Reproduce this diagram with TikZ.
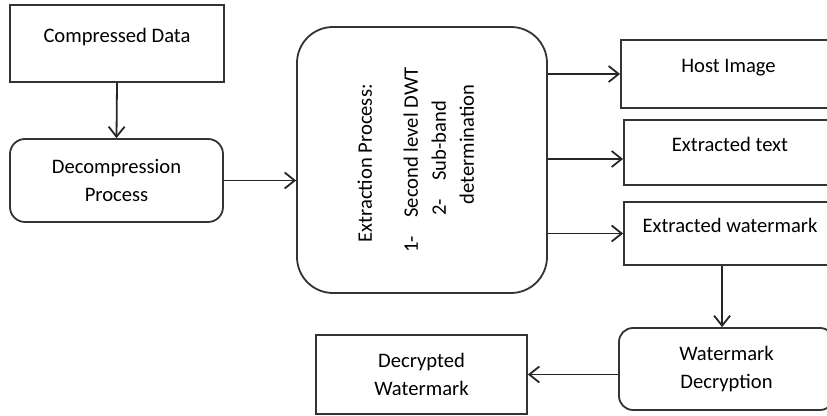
\documentclass[tikz,border=0pt]{standalone}
\usepackage{fontspec}
\setmainfont{Carlito}
\usepackage{graphicx}
\usetikzlibrary{arrows.meta}

\begin{document}
\begin{tikzpicture}[x=0.5pt,y=-0.5pt,
	box/.style={draw=black!80,line width=0.9pt,align=center,inner sep=0pt,
		font=\fontsize{10.3}{14}\selectfont},
	rbox/.style={box,rounded corners=7.5pt},
	toptext/.style={text height=7pt,text depth=8pt},
	arr/.style={-{Straight Barb[length=5pt,width=8pt]},line width=0.9pt,draw=black!85}]
			\useasboundingbox (0,0) rectangle (827,416);
			
			\node[box,toptext,minimum width=107pt,minimum height=38.5pt] (comp) at (117,43.5) {Compressed Data};
			\node[rbox,minimum width=106.5pt,minimum height=41.5pt] (decomp) at (116.5,180.5) {Decompression\\Process};
			\node[box,rounded corners=18pt,minimum width=125pt,minimum height=133pt] (extract) at (422,160)
				{\rotatebox{90}{\begin{tabular}{@{}l@{}}
					\hspace*{5pt}Extraction Process:\\[9pt]
					\makebox[17.5pt][l]{1-}Second level DWT\\
					\hspace*{18.5pt}\makebox[17.5pt][l]{2-}Sub-band\\
					\hspace*{24pt}determination\rule[-9pt]{0pt}{1pt}
				\end{tabular}}};
			
			\node[box,toptext,minimum width=107.5pt,minimum height=34pt] (host) at (728.5,74) {Host Image};
			\node[box,toptext,minimum width=106pt,minimum height=32.5pt] (txt) at (730,152.5) {Extracted text};
			\node[box,toptext,minimum width=106pt,minimum height=31.5pt] (wm) at (730,233.5) {Extracted watermark};
			\node[rbox,rounded corners=7pt,minimum width=107.5pt,minimum height=41pt] (wmdec) at (726.5,369) {Watermark\\Decryption};
			\node[box,minimum width=105.5pt,minimum height=39.5pt] (decwm) at (421.5,374.5) {Decrypted\\Watermark};
			
			\draw[arr] (comp.south) -- (decomp.north);
			\draw[arr] (decomp.east) -- (decomp.east -| extract.west);
			\draw[arr] (extract.east |- host.west) -- (host.west);
			\draw[arr] ([yshift=-3.25pt]txt.west -| extract.east) -- ([yshift=-3.25pt]txt.west);
			\draw[arr] (extract.east |- wm.west) -- (wm.west);
			\draw[arr] ([xshift=49.5pt]wm.south west) -- ([xshift=49.5pt]wm.south west |- wmdec.north);
			\draw[arr] (wmdec.west |- decwm.east) -- (decwm.east);
\end{tikzpicture}
\end{document}
